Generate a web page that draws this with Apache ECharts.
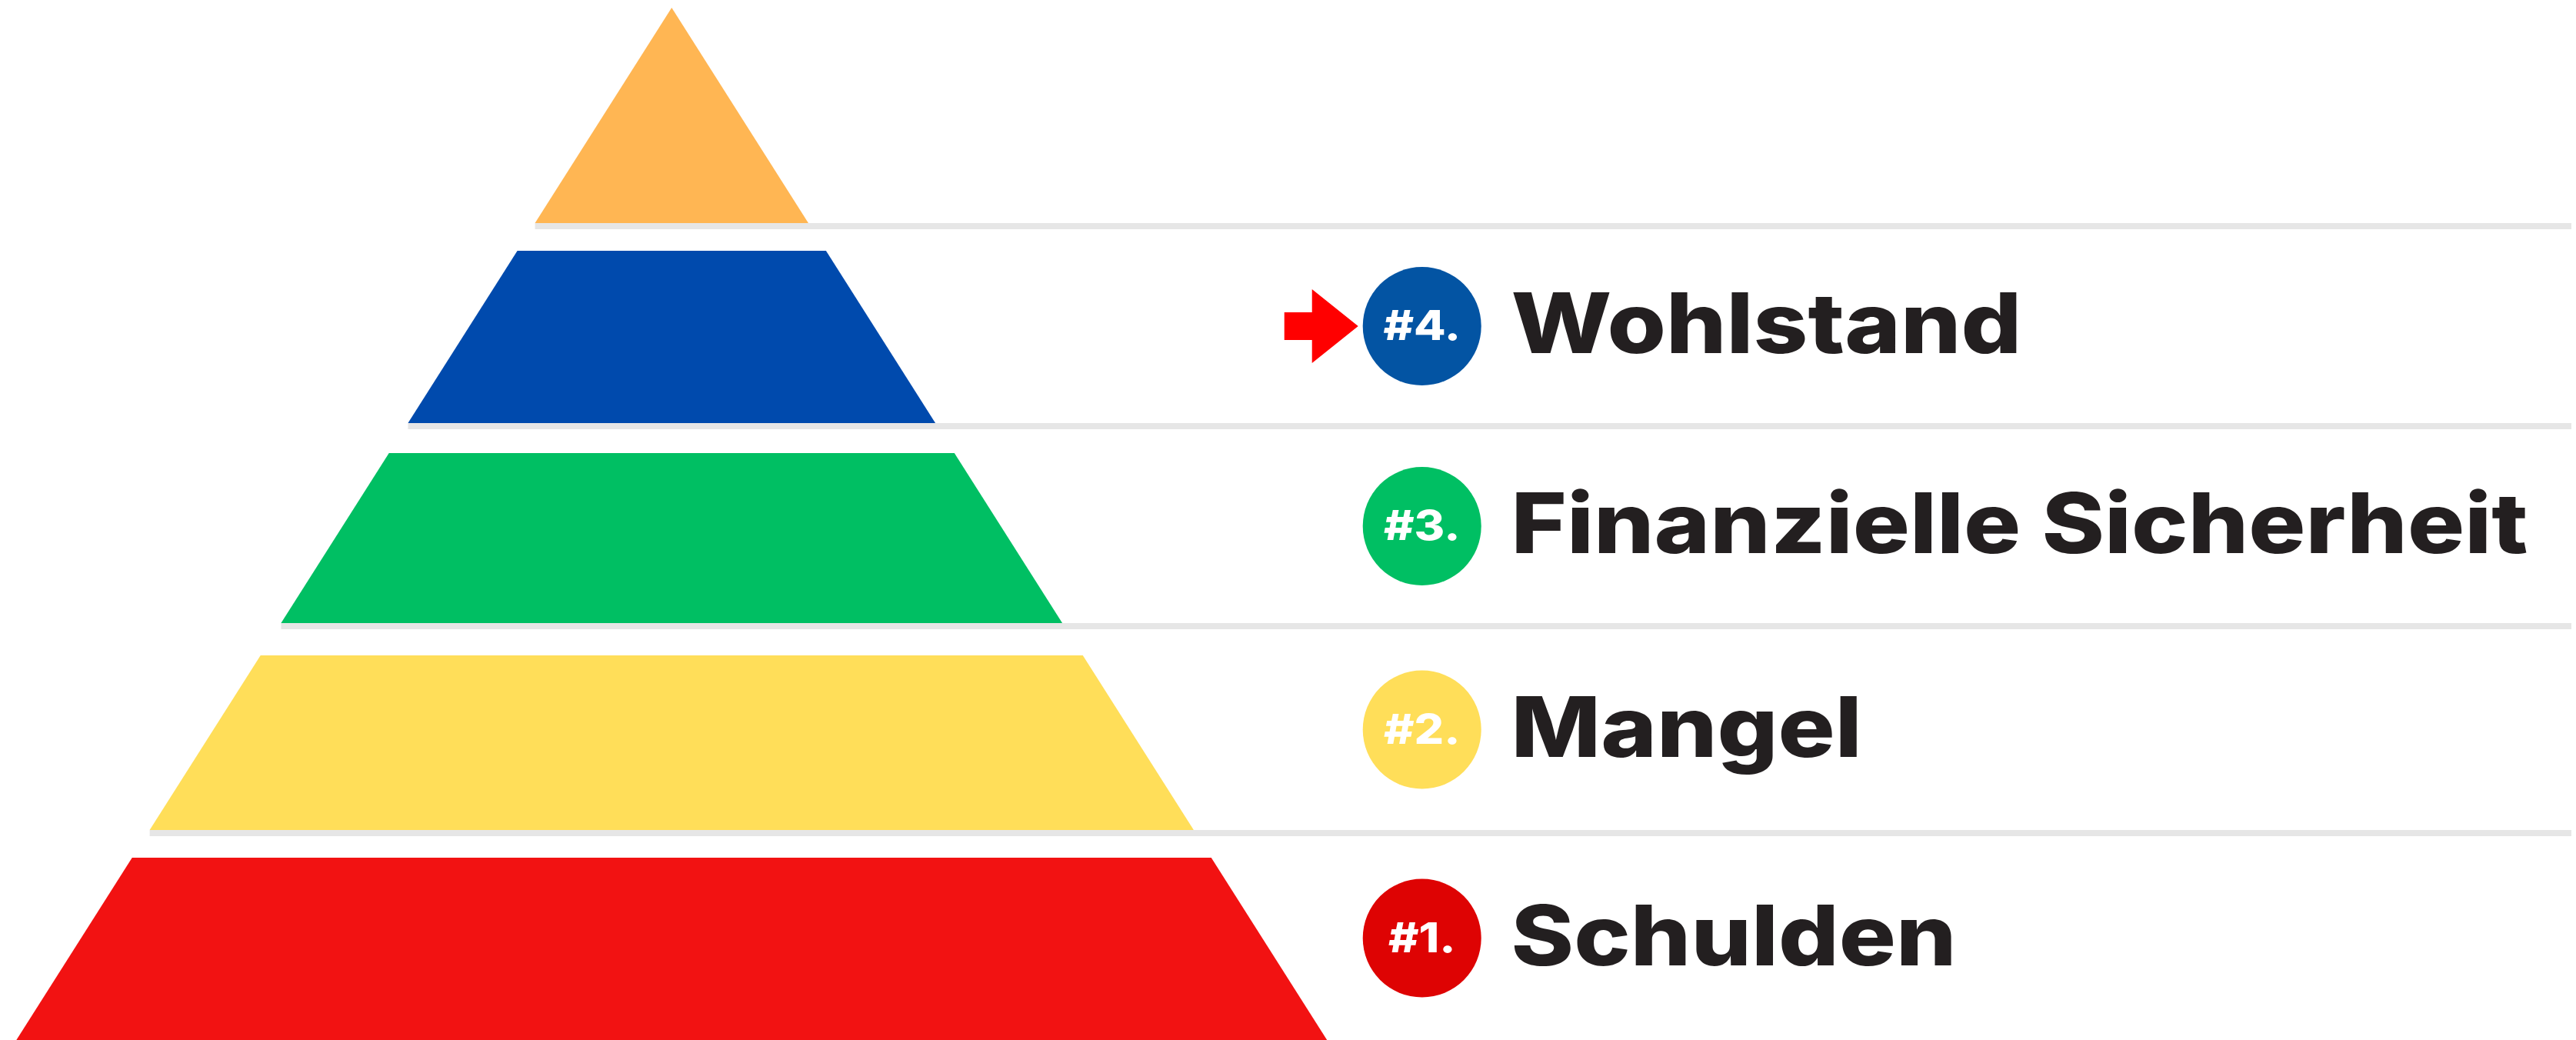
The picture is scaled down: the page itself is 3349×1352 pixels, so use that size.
<!DOCTYPE html>
<html>
<head>
<meta charset="utf-8">
<script src="https://cdn.jsdelivr.net/npm/echarts@6/dist/echarts.min.js"></script>
<style>
html, body { margin: 0; padding: 0; background: #fff; }
#main { width: 3349px; height: 1352px; }
</style>
</head>
<body>
<div id="main"></div>
<script>
// Stufen von unten nach oben
var levels = ['Schulden', 'Mangel', 'Finanzielle Sicherheit', 'Wohlstand', ''];
var ranks = ['#1.', '#2.', '#3.', '#4.', ''];
// Anteil der Pyramidenhoehe (0 = Basis, 1 = Spitze)
var bandBottom = [0, 0.2034, 0.4039, 0.5976, 0.7914];
var bandTop = [0.1766, 0.3726, 0.5686, 0.7645, 1];
var current = 'Wohlstand';

var bandColors = ['#F21212', '#FFDE59', '#00BF63', '#004AAD', '#FFB653'];
var circleColors = ['#DE0303', '#FFDE59', '#00BF63', '#0354A3'];
var lineColor = '#E6E6E6';
var lineH = 8;

var myChart = echarts.init(document.getElementById('main'));

function renderBand(params, api) {
	var i = params.dataIndex;
	var b = api.value(0);
	var t = api.value(1);
	var bl = api.coord([-(1 - b), b]);
	var br = api.coord([1 - b, b]);
	var tr = api.coord([1 - t, t]);
	var tl = api.coord([-(1 - t), t]);
	var children = [];
	if(b > 0) {
		children.push({
			type: 'rect',
			shape: { x: bl[0], y: bl[1], width: api.getWidth() - 6 - bl[0], height: lineH },
			style: { fill: lineColor }
		});
	}
	children.push({
		type: 'polygon',
		shape: { points: t >= 1 ? [bl, br, tr] : [bl, br, tr, tl] },
		style: { fill: bandColors[i] }
	});
	return { type: 'group', children: children };
}

function renderLabel(params, api) {
	var i = params.dataIndex;
	var lower = api.coord([0, api.value(0)])[1];
	var upper = api.coord([0, api.value(1)])[1] + lineH;
	var cy = (lower + upper) / 2;
	var cx = api.coord([1.145, 0])[0];
	var tx = api.coord([1.281, 0])[0];
	var children = [{
		type: 'circle',
		shape: { cx: cx, cy: cy, r: 77 },
		style: { fill: circleColors[i] }
	}, {
		type: 'text',
		x: cx, y: cy + 2, scaleX: 1.12,
		style: {
			text: ranks[i], x: 0, y: 0, fill: '#fff',
			fontFamily: 'Inter', fontWeight: 800, fontSize: 54,
			align: 'center', verticalAlign: 'middle'
		}
	}, {
		type: 'text',
		x: tx, y: cy + 3, scaleX: 1.145,
		style: {
			text: levels[i], x: 0, y: 0, fill: '#231F20',
			fontFamily: 'Inter', fontWeight: 800, fontSize: 108,
			align: 'left', verticalAlign: 'middle'
		}
	}];
	if(levels[i] == current) {
		children.push({
			type: 'polygon',
			shape: {
				points: [
					[cx - 179, cy - 18], [cx - 143, cy - 18], [cx - 143, cy - 48], [cx - 83, cy],
					[cx - 143, cy + 48], [cx - 143, cy + 18], [cx - 179, cy + 18]
				]
			},
			style: { fill: '#FF0000' }
		});
	}
	return { type: 'group', children: children };
}

var bandData = [];
for(var i = 0; i < bandBottom.length; i++) {
	bandData.push([bandBottom[i], bandTop[i]]);
}
var labelData = [];
for(var j = 0; j < 4; j++) {
	labelData.push([bandBottom[j], bandBottom[j + 1]]);
}

var option = {
	animation: false,
	backgroundColor: '#fff',
	grid: { left: 0, right: 0, top: 0, bottom: 0 },
	xAxis: { type: 'value', min: -1.025, max: 2.906, show: false },
	yAxis: { type: 'value', min: 0, max: 1.0075, show: false },
	series: [{
		type: 'custom',
		renderItem: renderBand,
		data: bandData,
		clip: false,
		silent: true
	}, {
		type: 'custom',
		renderItem: renderLabel,
		data: labelData,
		clip: false,
		silent: true
	}]
};
myChart.setOption(option);
</script>
</body>
</html>
